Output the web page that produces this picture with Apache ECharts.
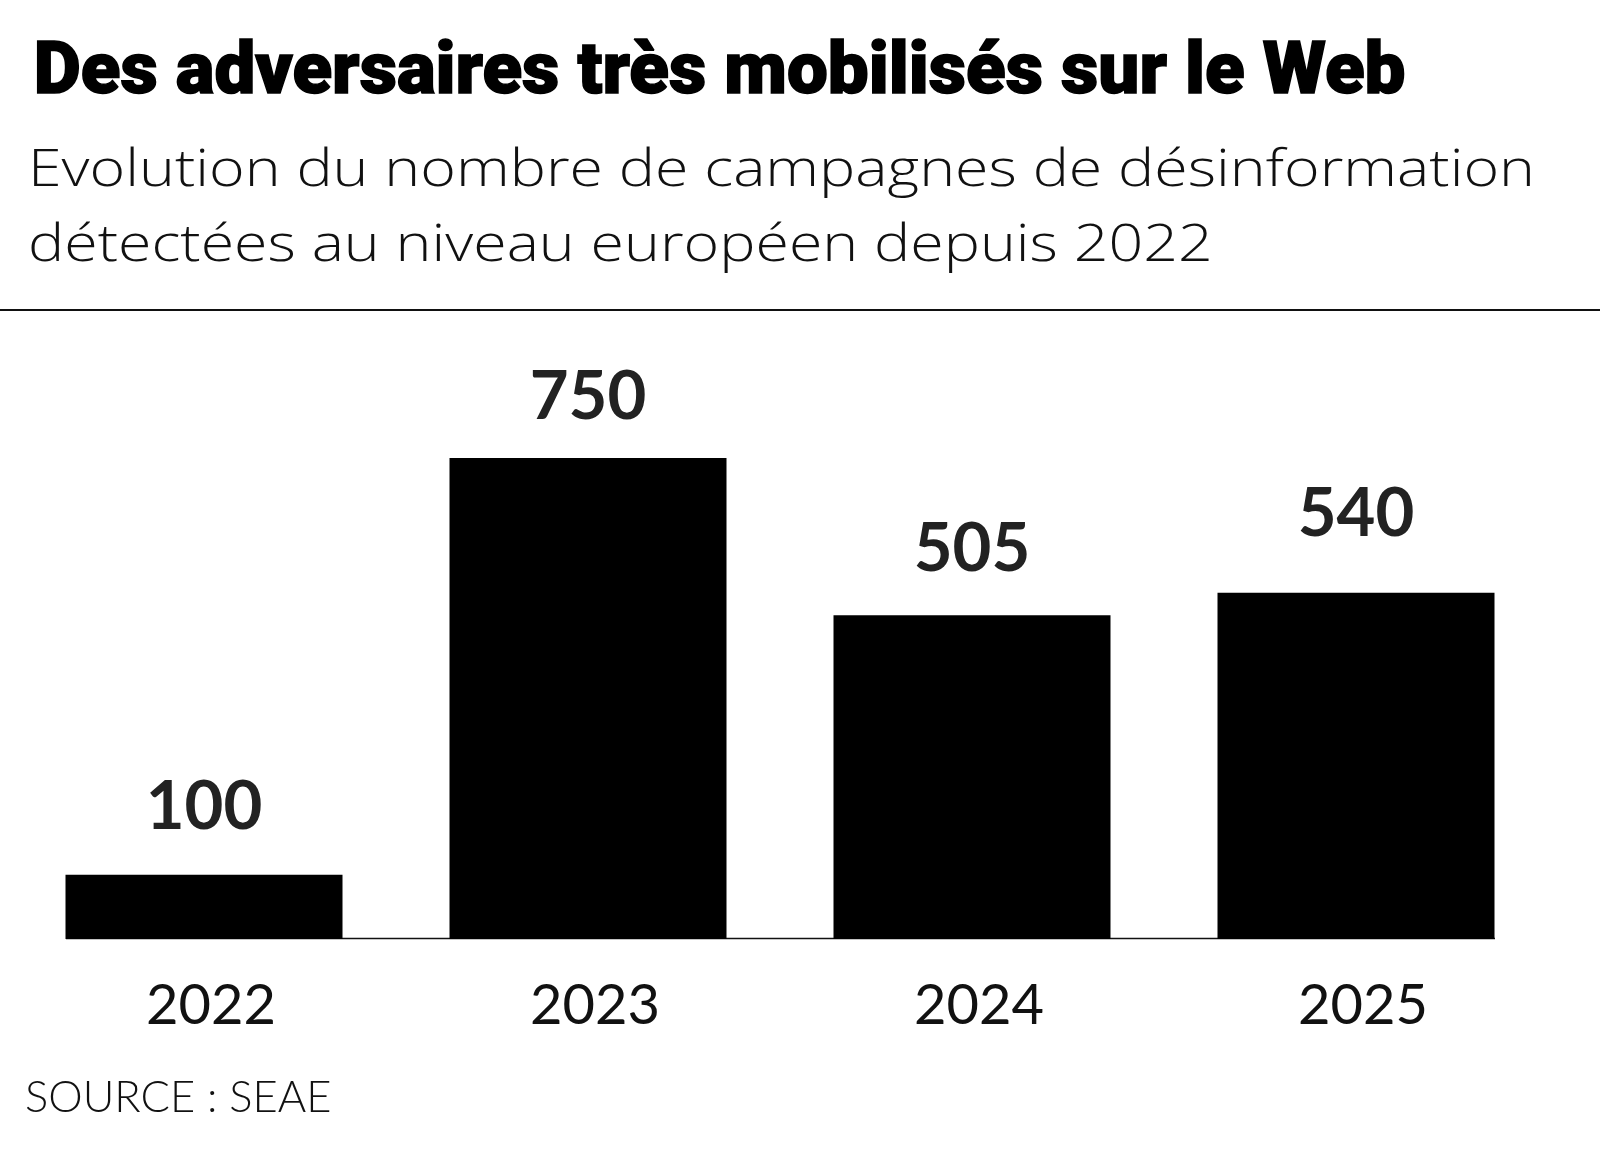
<!DOCTYPE html>
<html>
<head>
<meta charset="utf-8">
<script src="https://cdn.jsdelivr.net/npm/echarts@6/dist/echarts.min.js"></script>
<style>
  html, body { margin: 0; padding: 0; background: #fff; }
  #chart { width: 1600px; height: 1160px; }
</style>
</head>
<body>
<div id="chart"></div>
<script>
const years = ['2022', '2023', '2024', '2025']
const campagnes = [100, 750, 505, 540]

const titleText = 'Des adversaires très mobilisés sur le Web'
const subtitleLines = [
  'Evolution du nombre de campagnes de désinformation',
  'détectées au niveau européen depuis 2022'
]
const sourceText = 'SOURCE : SEAE'

// the labels in the original don't sit at the same gap above each bar
const labelGap = [34, 27, 32, 45]

var mychart = echarts.init(document.getElementById('chart'))

let option = {
  backgroundColor: '#fff',
  animation: false,
  grid: { left: 12, right: 52, top: 458, bottom: 221 },
  xAxis: {
    type: 'category',
    data: years,
    axisLine: { show: false },
    axisTick: { show: false },
    axisLabel: {
      color: '#111',
      fontFamily: 'Lato',
      fontSize: 56,
      margin: 39,
      padding: [0, 0, 0, 14]
    }
  },
  yAxis: {
    type: 'value',
    min: 0,
    max: 750,
    show: false,
    splitLine: { show: false }
  },
  graphic: [
    {
      type: 'text',
      left: 33,
      top: 38,
      scaleX: 1.01,
      style: {
        text: titleText,
        font: '900 72px Roboto',
        fill: '#000',
        stroke: '#000',
        lineWidth: 1.5
      }
    },
    {
      type: 'text',
      left: 28,
      top: 134,
      scaleX: 1.17,
      style: {
        text: subtitleLines.join('\n'),
        font: '300 52px "Open Sans"',
        lineHeight: 75,
        fill: '#111'
      }
    },
    {
      type: 'line',
      shape: { x1: 0, y1: 310, x2: 1600, y2: 310 },
      style: { stroke: '#111', lineWidth: 2 }
    },
    {
      type: 'line',
      shape: { x1: 66, y1: 938.5, x2: 1495, y2: 938.5 },
      style: { stroke: '#111', lineWidth: 1.5 }
    },
    {
      type: 'text',
      left: 25,
      top: 1076,
      style: {
        text: sourceText,
        font: '300 43.5px Lato',
        fill: '#111'
      }
    }
  ],
  series: [
    {
      type: 'bar',
      data: campagnes.map((v, i) => ({ value: v, label: { distance: labelGap[i] } })),
      barWidth: 277,
      itemStyle: { color: '#000' },
      label: {
        show: true,
        position: 'top',
        color: '#222',
        fontFamily: 'Lato',
        fontWeight: 'bold',
        fontSize: 67
      }
    }
  ]
}
mychart.setOption(option)
</script>
</body>
</html>
